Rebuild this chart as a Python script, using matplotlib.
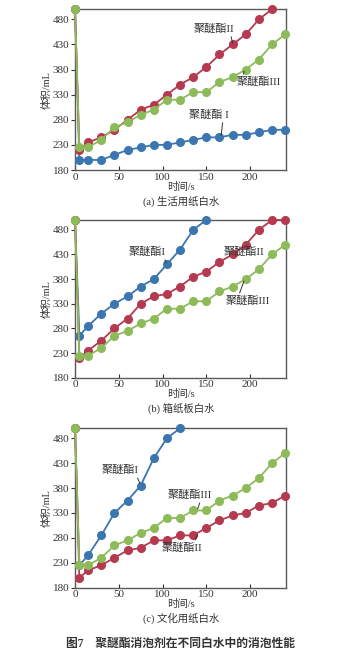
import matplotlib
matplotlib.use('Agg')
import matplotlib.pyplot as plt

plt.rcParams['font.family'] = ['Liberation Serif', 'Noto Sans CJK SC']

# time points (s)
t = [0, 5, 15, 30, 45, 60, 75, 90, 105, 120, 135, 150, 165, 180, 195, 210, 225, 240]

# (a) 生活用纸白水
a_I = [500, 200, 200, 200, 210, 220, 225, 230, 230, 235, 240, 245, 245, 250, 250, 255, 260, 260]
a_II = [500, 220, 235, 245, 260, 280, 300, 310, 330, 350, 365, 385, 410, 430, 450, 480, 500]
a_III = [500, 225, 225, 240, 265, 275, 290, 300, 320, 320, 335, 335, 355, 365, 380, 400, 430, 450]

# (b) 箱纸板白水
b_I = [500, 265, 285, 310, 330, 345, 365, 380, 410, 440, 480, 500]
b_II = [500, 220, 235, 255, 280, 300, 330, 345, 350, 365, 385, 395, 415, 430, 450, 480, 500, 500]
b_III = [500, 225, 225, 240, 265, 275, 290, 300, 320, 320, 335, 335, 355, 365, 380, 400, 430, 450]

# (c) 文化用纸白水
c_I = [500, 225, 245, 285, 330, 355, 385, 440, 480, 500]
c_II = [500, 200, 215, 225, 240, 255, 260, 275, 275, 285, 285, 300, 315, 325, 330, 345, 350, 365]
c_III = [500, 225, 225, 240, 265, 275, 290, 300, 320, 320, 335, 335, 355, 365, 380, 400, 430, 450]

blue = '#3b76b0'
red = '#b5394f'
green = '#8dbb5a'
spine = '#5a5a5a'

fig = plt.figure(figsize=(3.62, 6.52), dpi=100)

# bottom edge of each axes in pixels, and height in pixels
panels = [
    (170.0, 160.7, a_I, a_II, a_III, '(a) 生活用纸白水',
     [('聚醚酯II', (159, 461), (180, 433), (0.9, 0.0)),
      ('聚醚酯III', (210, 355), (193, 377), (0.15, 1.0)),
      ('聚醚酯 I', (153, 290), (167, 249), (0.85, 0.0))]),
    (377.7, 157.7, b_I, b_II, b_III, '(b) 箱纸板白水',
     [('聚醚酯I', (82, 435), (104, 413), (0.95, 0.2)),
      ('聚醚酯II', (193, 435), (196, 448), (0.55, 1.0)),
      ('聚醚酯III', (197, 336), (193, 376), (0.3, 1.0))]),
    (587.7, 159.4, c_I, c_II, c_III, '(c) 文化用纸白水',
     [('聚醚酯I', (51, 416), (74, 390), (0.95, 0.0)),
      ('聚醚酯III', (131, 366), (140, 338), (0.75, 0.0)),
      ('聚醚酯II', (122, 260), (140, 287), (0.8, 1.0))]),
]

W, H = 362.0, 652.0
for bpx, hpx, s1, s2, s3, title, notes in panels:
    ax = fig.add_axes([75 / W, 1 - bpx / H, 211 / W, hpx / H])
    ax.plot(t[:len(s1)], s1, '-o', color=blue, lw=1.3, ms=5.5, clip_on=False, zorder=3)
    ax.plot(t[:len(s2)], s2, '-o', color=red, lw=1.3, ms=5.5, clip_on=False, zorder=3)
    ax.plot(t[:len(s3)], s3, '-o', color=green, lw=1.3, ms=5.5, clip_on=False, zorder=3)
    ax.set_xlim(0, 241)
    ax.set_ylim(180, 500)
    ax.set_xticks([0, 50, 100, 150, 200])
    ax.set_yticks([180, 230, 280, 330, 380, 430, 480])
    ax.tick_params(axis='x', direction='in', length=3, labelsize=8, colors='#333333', pad=2)
    ax.tick_params(axis='y', direction='out', length=3, labelsize=8, colors='#333333', pad=1)
    for sp in ax.spines.values():
        sp.set_color(spine)
        sp.set_linewidth(1.0)
    ax.set_ylabel('体积/mL', fontsize=7.5, labelpad=1, color='#333333')
    ax.set_xlabel('时间/s', fontsize=7.5, labelpad=0, color='#333333')
    fig.text(181 / W, 1 - (bpx + 31) / H, title, ha='center', va='center',
             fontsize=7.5, color='#333333')
    for label, txy, xy, rp in notes:
        ax.annotate(label, xy=xy, xytext=txy, ha='center', va='center', fontsize=8,
                    color='#333333',
                    arrowprops=dict(arrowstyle='-', color='#333333', lw=0.7,
                                    relpos=rp, shrinkA=0, shrinkB=0))

fig.text(0.5, 1 - 644 / H, '图7　聚醚酯消泡剂在不同白水中的消泡性能', ha='center', va='center',
         fontsize=8.5, fontweight='bold', color='#333333')

fig.savefig('out.png', dpi=100)
